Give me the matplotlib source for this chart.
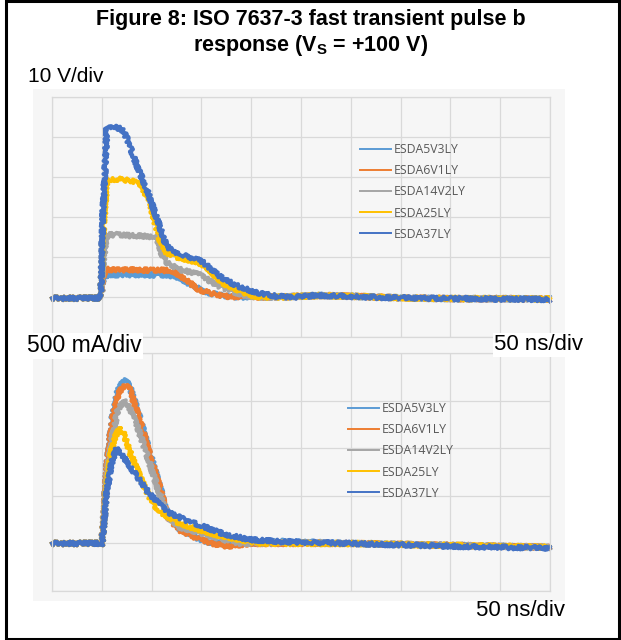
import numpy as np
import matplotlib
matplotlib.use("Agg")
import matplotlib.pyplot as plt
from matplotlib.patches import Rectangle
from matplotlib.lines import Line2D

plt.rcParams['mathtext.fontset'] = 'custom'
plt.rcParams['mathtext.rm'] = 'Liberation Sans:bold'
plt.rcParams['mathtext.it'] = 'Liberation Sans:bold'
plt.rcParams['mathtext.bf'] = 'Liberation Sans:bold'

# ---------------- data ----------------
series_names = ["ESDA5V3LY", "ESDA6V1LY", "ESDA14V2LY", "ESDA25LY", "ESDA37LY"]
series_colors = ["#5B9BD5", "#ED7D31", "#A5A5A5", "#FFC000", "#4472C4"]

# Top chart: voltage (V) vs time (ns)
v_t_5v3 = [0, 49, 51, 54, 70, 90, 110, 122, 130, 140, 150, 160, 175, 190, 230, 270, 300, 350, 400, 450, 500]
v_5v3 = [-0.3, -0.3, 4, 5.5, 5.6, 5.5, 5.5, 5.3, 4.5, 3.0, 1.7, 0.9, 0.2, 0, 0, 0.4, 0.2, -0.2, -0.4, -0.4, -0.5]

v_t_6v1 = [0, 49, 51, 54, 70, 90, 110, 120, 128, 138, 147, 156, 165, 175, 190, 230, 270, 300, 350, 400, 450, 500]
v_6v1 = [-0.3, -0.3, 5, 6.9, 6.8, 6.7, 6.7, 6.5, 5.5, 3.6, 1.9, 1.2, 0.6, 0.2, 0, 0, 0.4, 0.2, -0.2, -0.4, -0.4, -0.5]

v_t_14v2 = [0, 49, 51, 55, 65, 80, 95, 105, 110, 115, 128, 147, 160, 171, 190, 204, 230, 270, 300, 350, 400, 450, 500]
v_14v2 = [-0.3, -0.3, 8, 15.5, 15.6, 15.3, 15.2, 15, 11, 8.6, 6.9, 5.7, 3.8, 2.3, 0.6, 0, 0, 0.4, 0.2, -0.2, -0.4, -0.4, -0.5]

v_t_25 = [0, 49, 51, 55, 65, 75, 85, 90, 100, 108, 115, 125, 135, 147, 155, 171, 190, 204, 230, 270, 300, 350, 400, 450, 500]
v_25 = [-0.3, -0.3, 15, 29.3, 29.5, 29.2, 28.8, 28, 21.9, 14.4, 11.1, 10, 9.4, 8.6, 7.5, 3.5, 1.4, 0, 0, 0.4, 0.2, -0.2, -0.4, -0.4, -0.5]

v_t_37 = [0, 49, 51, 55, 62, 70, 75, 85, 95, 108, 115, 122, 130, 143, 150, 160, 167, 178, 186, 197, 208, 218, 227, 245, 265, 285, 310, 350, 400, 450, 500]
v_37 = [-0.3, -0.3, 20, 42, 42.5, 42, 39.8, 33, 27, 17.7, 12.7, 11.5, 10.6, 9.6, 9, 7, 5.4, 3.8, 2.8, 1.8, 1.0, 0.5, 0.1, 0, 0.4, 0.3, 0, -0.2, -0.4, -0.5, -0.6]

# Bottom chart: current (A) vs time (ns)
i_t_5v3 = [0, 48, 50, 55, 60, 66, 70, 74, 78, 87, 98, 109, 116, 128, 142, 161, 190, 230, 300, 400, 500]
i_5v3 = [0, 0, -0.03, 0.8, 1.3, 1.6, 1.68, 1.71, 1.65, 1.36, 0.96, 0.57, 0.3, 0.15, 0.07, 0, 0, 0.02, 0, -0.02, -0.04]

i_t_6v1 = [0, 48, 50, 55, 60, 66, 70, 74, 78, 87, 98, 109, 116, 128, 142, 161, 175, 200, 300, 400, 500]
i_6v1 = [0, 0, -0.03, 0.78, 1.27, 1.56, 1.63, 1.66, 1.62, 1.33, 0.94, 0.56, 0.28, 0.14, 0.07, 0, -0.03, 0, 0, -0.02, -0.04]

i_t_14v2 = [0, 48, 50, 55, 60, 66, 72, 78, 87, 98, 109, 116, 128, 146, 168, 190, 230, 300, 400, 500]
i_14v2 = [0, 0, -0.03, 0.7, 1.1, 1.4, 1.5, 1.42, 1.19, 0.84, 0.49, 0.28, 0.17, 0.12, 0.05, 0, 0.01, 0, -0.02, -0.04]

i_t_25 = [0, 48, 50, 55, 60, 67, 72, 79, 90, 101, 109, 124, 142, 165, 191, 210, 300, 400, 500]
i_25 = [0, 0, -0.03, 0.6, 1.0, 1.22, 1.15, 0.94, 0.66, 0.42, 0.33, 0.23, 0.16, 0.09, 0.035, 0, 0, -0.02, -0.04]

i_t_37 = [0, 48, 50, 55, 60, 65, 70, 75, 87, 98, 109, 116, 135, 154, 172, 198, 228, 300, 400, 500]
i_37 = [0, 0, -0.03, 0.55, 0.85, 1.0, 0.93, 0.86, 0.68, 0.52, 0.40, 0.33, 0.24, 0.17, 0.1, 0.04, 0.02, 0, -0.03, -0.05]

x_ticks = list(range(0, 501, 50))
v_ticks = list(range(-10, 51, 10))
i_ticks = [-0.5, 0, 0.5, 1.0, 1.5, 2.0]

title_line1 = "Figure 8: ISO 7637-3 fast transient pulse b"
title_line2 = r"response (V$_{\mathrm{S}}$ = +100 V)"
label_v = "10 V/div"
label_i = "500 mA/div"
label_t = "50 ns/div"

# ---------------- layout ----------------
W, H = 621, 640
fig = plt.figure(figsize=(W / 100, H / 100), dpi=100)
fig.patch.set_facecolor("white")


def fx(x):
    return x / W


def fy(y):
    return 1 - y / H


PANEL = "#F6F6F6"
GRID = "#D9D9D9"

fig.add_artist(Rectangle((fx(33), fy(601)), (565 - 33) / W, (601 - 89) / H,
                         transform=fig.transFigure, facecolor=PANEL,
                         edgecolor="none", zorder=-2))
# outer border
fig.add_artist(Rectangle((fx(5.5), fy(638.5)), (618.5 - 5.5) / W, (638.5 - 1) / H,
                         transform=fig.transFigure, facecolor="none",
                         edgecolor="black", lw=2.2, zorder=10))

ax1 = fig.add_axes([fx(52), fy(337), 498 / W, 240 / H])
ax2 = fig.add_axes([fx(52), fy(591), 498 / W, 238 / H])

top_data = [(v_t_5v3, v_5v3), (v_t_6v1, v_6v1), (v_t_14v2, v_14v2), (v_t_25, v_25), (v_t_37, v_37)]
bot_data = [(i_t_5v3, i_5v3), (i_t_6v1, i_6v1), (i_t_14v2, i_14v2), (i_t_25, i_25), (i_t_37, i_37)]

for ax, data, yt in [(ax1, top_data, v_ticks), (ax2, bot_data, i_ticks)]:
    ax.set_facecolor(PANEL)
    ax.set_xlim(0, 500)
    ax.set_ylim(yt[0], yt[-1])
    ax.set_xticks(x_ticks)
    ax.set_yticks(yt)
    ax.grid(True, color=GRID, lw=0.9)
    ax.set_axisbelow(True)
    ax.tick_params(length=0, labelbottom=False, labelleft=False)
    for s in ax.spines.values():
        s.set_color(GRID)
        s.set_linewidth(0.9)
    for (t, v), c in zip(data, series_colors):
        ln, = ax.plot(t, v, color=c, lw=2.8, solid_joinstyle="round", clip_on=False)
        ln.set_sketch_params(scale=2.0, length=1.6, randomness=3)

handles = [Line2D([], [], color=c, lw=1.4) for c in series_colors]
leg_kw = dict(frameon=False, handlelength=2.55, handletextpad=0.2,
              labelspacing=0.67, borderpad=0, borderaxespad=0, labelcolor="#595959",
              prop={"family": "Open Sans", "size": 8.8},
              bbox_transform=fig.transFigure, loc="upper left")
ax1.legend(handles, series_names, bbox_to_anchor=(fx(360), fy(143)), **leg_kw)
ax2.legend(handles, series_names, bbox_to_anchor=(fx(348), fy(402)), **leg_kw)

# ---------------- texts ----------------
fig.text(0.5, fy(19), title_line1, ha="center", va="center", fontsize=15.5,
         fontweight="bold", family="Liberation Sans")
fig.text(0.5, fy(45), title_line2, ha="center", va="center", fontsize=15.5,
         fontweight="bold", family="Liberation Sans")

lab_kw = dict(family="Liberation Sans", color="black")
fig.text(fx(28), fy(76), label_v, ha="left", va="center", fontsize=15, **lab_kw)
fig.text(fx(27), fy(346), label_i, ha="left", va="center", fontsize=16.5,
         bbox=dict(facecolor="white", edgecolor="none", pad=1.0), zorder=5, **lab_kw)
fig.text(fx(583), fy(345), label_t, ha="right", va="center", fontsize=16,
         bbox=dict(facecolor="white", edgecolor="none", pad=1.0), zorder=5, **lab_kw)
fig.text(fx(565), fy(611), label_t, ha="right", va="center", fontsize=16, **lab_kw)

fig.savefig("out.png", dpi=100, facecolor="white")
